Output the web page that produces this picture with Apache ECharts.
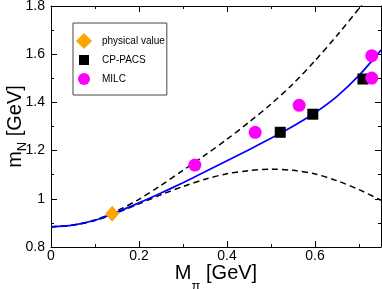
<!DOCTYPE html>
<html><head><meta charset="utf-8">
<script src="https://cdn.jsdelivr.net/npm/echarts@6/dist/echarts.min.js"></script>
<style>html,body{margin:0;padding:0;background:#fff}#c{width:382px;height:289px}</style>
</head><body><div id="c"></div>
<script>
// Data
const physicalValue = [[0.139, 0.938]];
const cpPacs = [[0.521, 1.276], [0.595, 1.351], [0.709, 1.497]];
const milc = [[0.327, 1.140], [0.464, 1.276], [0.564, 1.388], [0.729, 1.594], [0.729, 1.501]];

const curveX      = [0, 0.05, 0.1, 0.15, 0.2, 0.25, 0.3, 0.35, 0.4, 0.45, 0.5, 0.55, 0.6, 0.65, 0.7, 0.75];
const fitBlue     = [0.884, 0.891, 0.911, 0.945, 0.983, 1.024, 1.067, 1.112, 1.158, 1.204, 1.251, 1.301, 1.357, 1.425, 1.512, 1.617];
const upperDashed = [0.884, 0.891, 0.912, 0.950, 0.998, 1.056, 1.118, 1.181, 1.247, 1.318, 1.393, 1.477, 1.573, 1.678, 1.790, 1.910];
const lowerDashed = [0.884, 0.891, 0.910, 0.942, 0.979, 1.017, 1.051, 1.081, 1.104, 1.117, 1.123, 1.118, 1.103, 1.075, 1.038, 0.994];

const xMajorTicks = [0, 0.2, 0.4, 0.6];
const yTicks = [0.8, 1, 1.2, 1.4, 1.6, 1.8];

const pairs = (ys) => curveX.map((x, i) => [x, ys[i]]);
const FONT = 'Liberation Sans, Arial, sans-serif';

const chart = echarts.init(document.getElementById('c'), null, {renderer: 'canvas'});
const lineStyleAxis = {color: '#000', width: 1};
const option = {
  animation: false,
  textStyle: {fontFamily: FONT},
  grid: {left: 51, right: 1, top: 6, bottom: 42, containLabel: false, outerBoundsMode: 'none'},
  legend: {
    orient: 'vertical', left: 73, top: 23,
    padding: [10, 2, 8, 3], itemGap: 3, itemWidth: 16, itemHeight: 16,
    borderColor: '#444', borderWidth: 1, backgroundColor: '#fff',
    textStyle: {fontSize: 10, color: '#000', fontFamily: FONT, padding: [0, 0, 0, 5]},
    data: [
      {name: 'physical value', icon: 'diamond'},
      {name: 'CP-PACS', icon: 'path://M0,0M16,16M3,3L13,3L13,13L3,13Z'},
      {name: 'MILC', icon: 'path://M0,0M16,16M2,8A6,6,0,1,0,14,8A6,6,0,1,0,2,8Z'}
    ]
  },
  xAxis: [
    {type: 'value', position: 'bottom', min: 0, max: 0.75, interval: 0.2,
     axisLine: {show: true, onZero: false, lineStyle: lineStyleAxis},
     axisTick: {inside: true, length: 6, lineStyle: lineStyleAxis},
     axisLabel: {fontSize: 14, color: '#000', margin: 2, showMaxLabel: false,
       formatter: (v) => xMajorTicks.some(t => Math.abs(t - v) < 1e-6) ? String(v) : ''},
     splitLine: {show: false},
     name: '{m|M}{s|π}{m| [GeV]}', nameLocation: 'middle', nameGap: 16, nameMoveOverlap: false,
     nameTextStyle: {rich: {
       m: {fontSize: 20, fontFamily: FONT, color: '#000', lineHeight: 22, verticalAlign: 'top'},
       s: {fontSize: 13, fontFamily: FONT, color: '#000', lineHeight: 14, verticalAlign: 'top', padding: [17, 0, 0, 0]}
     }}},
    {type: 'value', position: 'bottom', min: 0, max: 0.75, interval: 0.1,
     axisLine: {show: false}, axisTick: {inside: true, length: 3, lineStyle: lineStyleAxis},
     axisLabel: {show: false}, splitLine: {show: false}},
    {type: 'value', position: 'top', min: 0, max: 0.75, interval: 0.2,
     axisLine: {show: true, onZero: false, lineStyle: lineStyleAxis},
     axisTick: {inside: true, length: 6, lineStyle: lineStyleAxis},
     axisLabel: {show: false}, splitLine: {show: false}},
    {type: 'value', position: 'top', min: 0, max: 0.75, interval: 0.1,
     axisLine: {show: false}, axisTick: {inside: true, length: 3, lineStyle: lineStyleAxis},
     axisLabel: {show: false}, splitLine: {show: false}}
  ],
  yAxis: [
    {type: 'value', position: 'left', min: 0.8, max: 1.8, interval: 0.2,
     axisLine: {show: true, onZero: false, lineStyle: lineStyleAxis},
     axisTick: {inside: true, length: 6, lineStyle: lineStyleAxis},
     minorTick: {show: true, splitNumber: 2, length: 3, lineStyle: lineStyleAxis},
     axisLabel: {fontSize: 14, color: '#000', margin: 6},
     splitLine: {show: false}, minorSplitLine: {show: false},
     name: '{m|m}{s|N}{m| [GeV]}', nameLocation: 'middle', nameGap: 24, nameMoveOverlap: false,
     nameTextStyle: {rich: {
       m: {fontSize: 20, fontFamily: FONT, color: '#000', lineHeight: 22, verticalAlign: 'top'},
       s: {fontSize: 13, fontFamily: FONT, color: '#000', lineHeight: 14, verticalAlign: 'top', padding: [11, 0, 0, 0]}
     }}},
    {type: 'value', position: 'right', min: 0.8, max: 1.8, interval: 0.2,
     axisLine: {show: true, onZero: false, lineStyle: lineStyleAxis},
     axisTick: {inside: true, length: 6, lineStyle: lineStyleAxis},
     minorTick: {show: true, splitNumber: 2, length: 3, lineStyle: lineStyleAxis},
     axisLabel: {show: false}, splitLine: {show: false}, minorSplitLine: {show: false}}
  ],
  series: [
    {type: 'line', data: pairs(upperDashed), smooth: 0.3, showSymbol: false, symbol: 'none', clip: true,
     lineStyle: {color: '#000', width: 1.5, type: [6, 4]}, z: 2, silent: true},
    {type: 'line', data: pairs(lowerDashed), smooth: 0.3, showSymbol: false, symbol: 'none', clip: true,
     lineStyle: {color: '#000', width: 1.5, type: [6, 4]}, z: 2, silent: true},
    {type: 'line', data: pairs(fitBlue), smooth: 0.3, showSymbol: false, symbol: 'none', clip: true,
     lineStyle: {color: '#0000ff', width: 1.7}, z: 3, silent: true},
    {name: 'physical value', type: 'scatter', data: physicalValue, symbol: 'diamond', symbolSize: [14, 16],
     itemStyle: {color: '#ffa500', opacity: 1}, z: 5},
    {name: 'CP-PACS', type: 'scatter', data: cpPacs, symbol: 'rect', symbolSize: 11,
     itemStyle: {color: '#000', opacity: 1}, z: 5},
    {name: 'MILC', type: 'scatter', data: milc, symbol: 'circle', symbolSize: 13,
     itemStyle: {color: '#ff00ff', opacity: 1}, z: 5}
  ]
};
chart.setOption(option);
</script></body></html>
